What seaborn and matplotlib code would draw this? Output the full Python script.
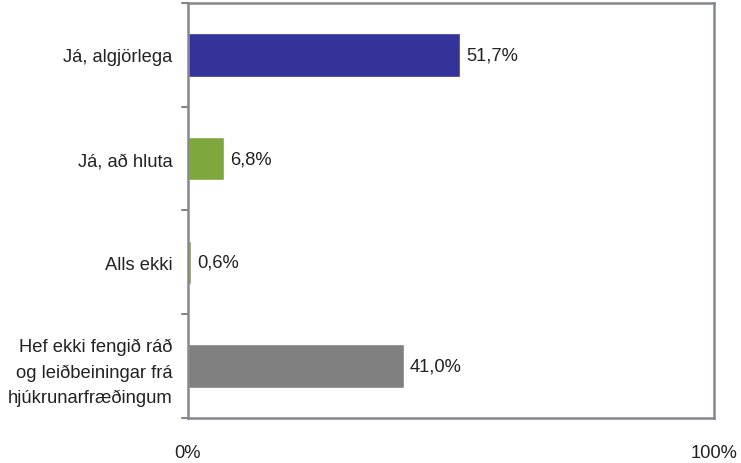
import matplotlib
matplotlib.use("Agg")
import matplotlib.pyplot as plt
import seaborn as sns
import pandas as pd

categories = [
    "Já, algjörlega",
    "Já, að hluta",
    "Alls ekki",
    "Hef ekki fengið ráð\nog leiðbeiningar frá\nhjúkrunarfræðingum",
]
values = [51.7, 6.8, 0.6, 41.0]
colors = ["#333399", "#7ea83d", "#7ea83d", "#808080"]
x_ticks = [0, 100]
x_tick_labels = ["0%", "100%"]

sns.set_style("white")
plt.rcParams["font.family"] = ["Liberation Sans", "DejaVu Sans"]

df = pd.DataFrame({"cat": categories, "val": values})

fig = plt.figure(figsize=(7.41, 4.64), dpi=100)
ax = fig.add_axes([0.2537, 0.097, 0.7099, 0.8944])

sns.barplot(data=df, x="val", y="cat", hue="cat", palette=colors,
            legend=False, width=0.42, ax=ax, saturation=1)

fs = 13.2
for i, v in enumerate(values):
    ax.text(v + 1.2, i, f"{v:.1f}%".replace(".", ","), va="center",
            ha="left", fontsize=fs, color="#222222")

ax.set_xlim(0, 100)
ax.set_ylim(3.5, -0.5)
ax.set_xticks(x_ticks)
ax.set_xticklabels(x_tick_labels, fontsize=fs, color="#222222")
ax.set_xlabel("")
ax.set_ylabel("")
ax.tick_params(axis="x", length=0, pad=19)
ax.set_yticks(range(len(categories)))
ax.set_yticklabels(categories, fontsize=fs, linespacing=1.62, color="#222222")
ax.tick_params(axis="y", length=0, pad=11)

# category separators on the left spine
for b in [-0.5, 0.5, 1.5, 2.5, 3.5]:
    ax.plot([-1.1, 0], [b, b], color="#868686", lw=1.5, clip_on=False)

for s in ax.spines.values():
    s.set_visible(True)
    s.set_color("#868690")
    s.set_linewidth(1.8)

fig.savefig("out.png", dpi=100)
